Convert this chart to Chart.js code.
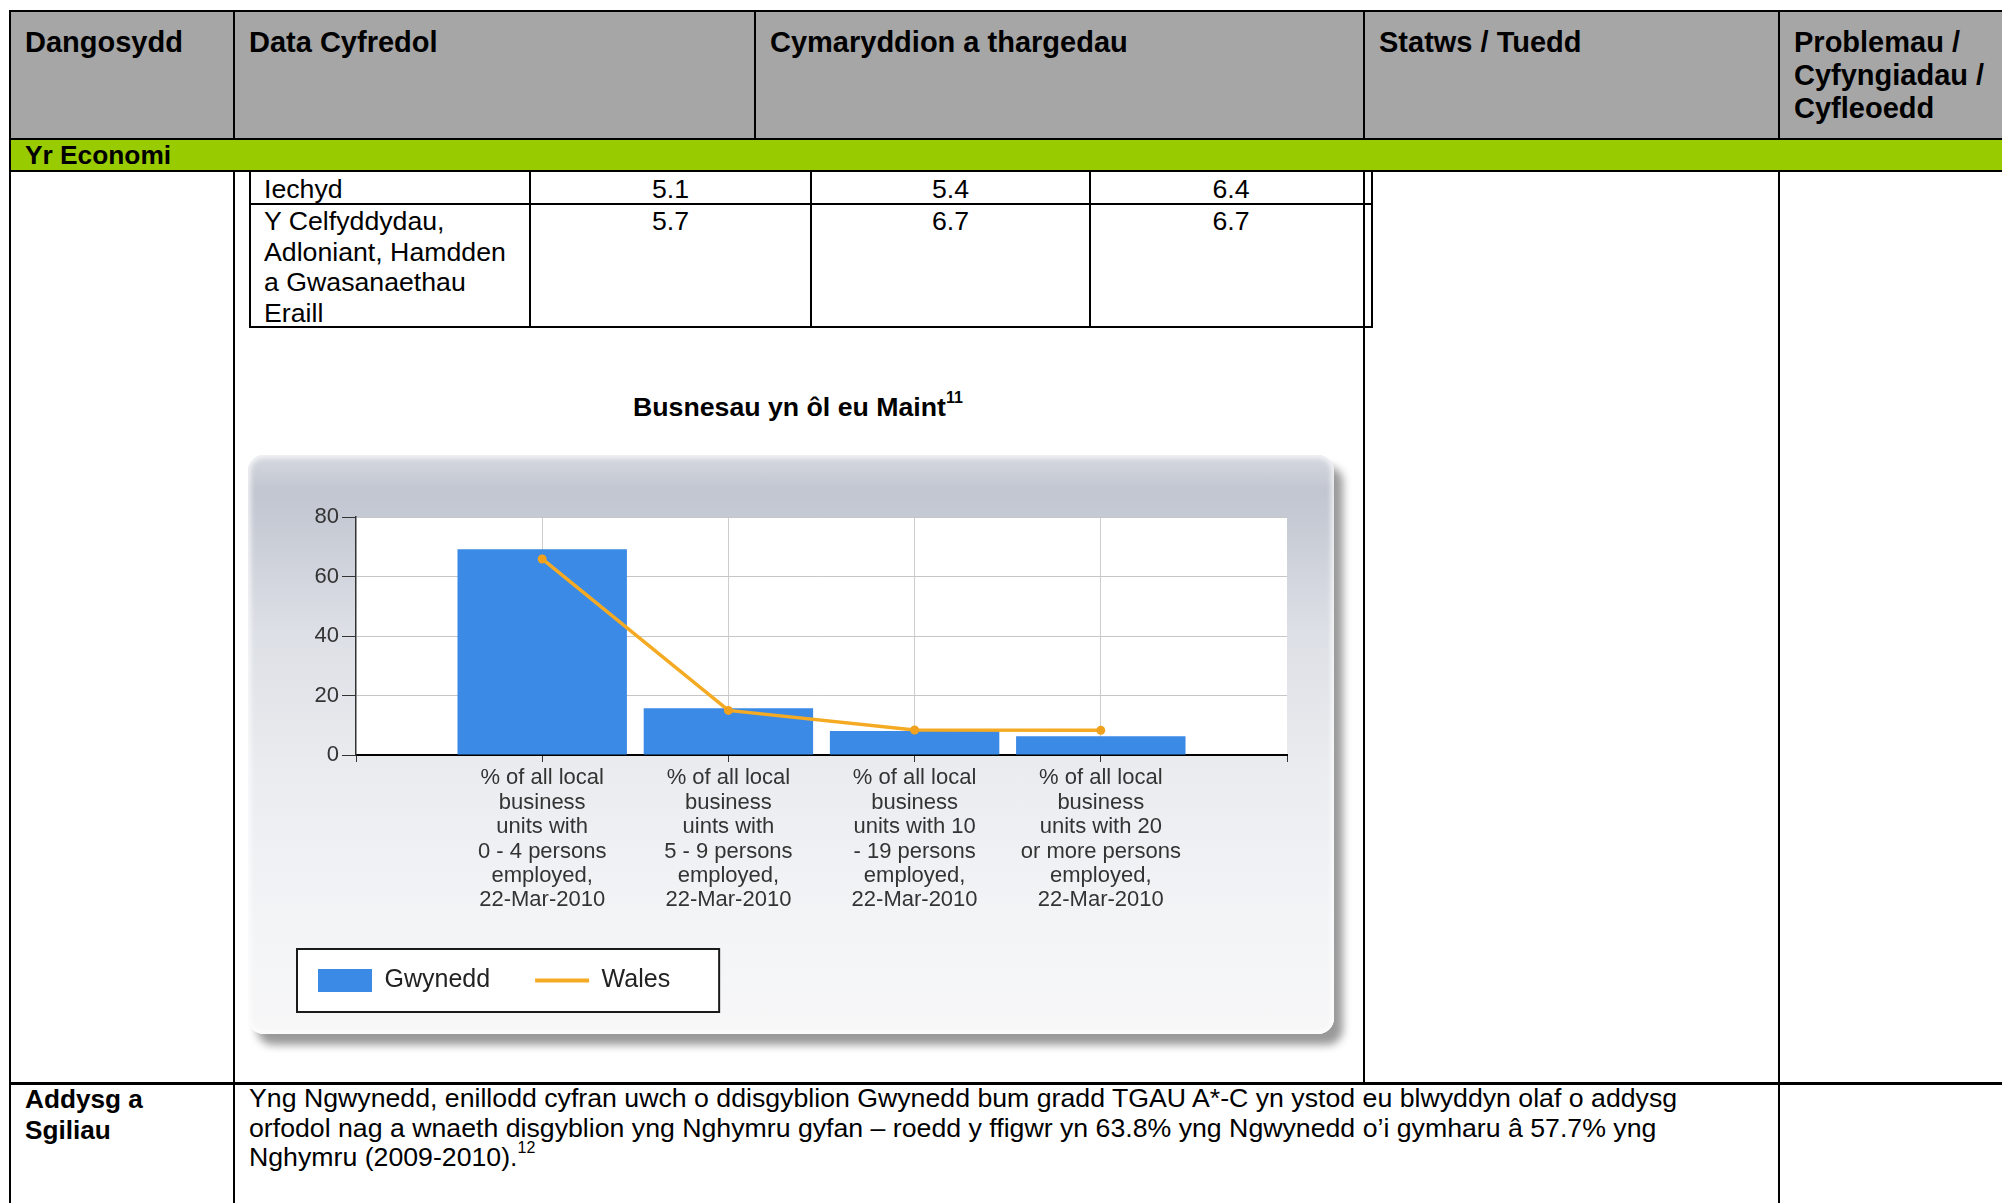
<!DOCTYPE html>
<html>
<head>
<meta charset="utf-8">
<script src="https://cdn.jsdelivr.net/npm/chart.js@4.4.1/dist/chart.umd.min.js"></script>
<style>
html,body{margin:0;padding:0;background:#fff;width:2002px;height:1203px;overflow:hidden;font-family:"Liberation Sans",Arial,sans-serif;color:#000;}
.l{position:absolute;background:#000;}
.t{position:absolute;white-space:nowrap;}
.hd{font-size:29px;font-weight:bold;line-height:33px;}
.bd{font-size:26.7px;line-height:30.6px;}
.c{text-align:center;}
#panel{position:absolute;left:248px;top:455px;width:1086px;height:579px;border-radius:16px;
 background:linear-gradient(180deg,#d6d9e0 0%,#c2c6d0 6%,#c6cad4 11%,#dcdfe5 30%,#eaecef 55%,#f3f4f6 80%,#f7f7f8 100%);
 box-shadow:9px 11px 8px rgba(0,0,0,0.40), inset 0 0 5px 3px rgba(255,255,255,0.7);}
#cv{position:absolute;left:248px;top:455px;}
sup{font-size:60%;line-height:0;position:relative;top:-0.2em;}
</style>
</head>
<body>
<!-- header background and band -->
<div class="l" style="left:11px;top:12px;width:1991px;height:126px;background:#a6a6a6"></div>
<div class="l" style="left:11px;top:140px;width:1991px;height:30px;background:#99cc00"></div>
<!-- horizontal rules -->
<div class="l" style="left:9px;top:10px;width:1993px;height:2px"></div>
<div class="l" style="left:9px;top:138px;width:1993px;height:2px"></div>
<div class="l" style="left:9px;top:170px;width:1993px;height:2px"></div>
<div class="l" style="left:9px;top:1082px;width:1993px;height:3px"></div>
<!-- vertical rules -->
<div class="l" style="left:9px;top:10px;width:2px;height:1193px"></div>
<div class="l" style="left:233px;top:12px;width:2px;height:126px"></div>
<div class="l" style="left:233px;top:172px;width:2px;height:1031px"></div>
<div class="l" style="left:754px;top:12px;width:2px;height:126px"></div>
<div class="l" style="left:1363px;top:12px;width:2px;height:126px"></div>
<div class="l" style="left:1363px;top:172px;width:2px;height:910px"></div>
<div class="l" style="left:1778px;top:12px;width:2px;height:126px"></div>
<div class="l" style="left:1778px;top:172px;width:2px;height:1031px"></div>
<!-- inner table -->
<div class="l" style="left:249px;top:172px;width:2px;height:156px"></div>
<div class="l" style="left:529px;top:172px;width:2px;height:156px"></div>
<div class="l" style="left:810px;top:172px;width:2px;height:156px"></div>
<div class="l" style="left:1089px;top:172px;width:2px;height:156px"></div>
<div class="l" style="left:1371px;top:172px;width:2px;height:156px"></div>
<div class="l" style="left:249px;top:203px;width:1124px;height:2px"></div>
<div class="l" style="left:249px;top:326px;width:1124px;height:2px"></div>

<!-- header texts -->
<div class="t hd" style="left:25px;top:26px">Dangosydd</div>
<div class="t hd" style="left:249px;top:26px">Data Cyfredol</div>
<div class="t hd" style="left:770px;top:26px">Cymaryddion a thargedau</div>
<div class="t hd" style="left:1379px;top:26px">Statws / Tuedd</div>
<div class="t hd" style="left:1794px;top:26px">Problemau /<br>Cyfyngiadau /<br>Cyfleoedd</div>
<div class="t" style="left:25px;top:139px;font-size:26.3px;font-weight:bold;line-height:32px">Yr Economi</div>

<!-- inner table text -->
<div class="t bd" style="left:264px;top:174px">Iechyd</div>
<div class="t bd c" style="left:531px;width:279px;top:174px">5.1</div>
<div class="t bd c" style="left:812px;width:277px;top:174px">5.4</div>
<div class="t bd c" style="left:1091px;width:280px;top:174px">6.4</div>
<div class="t bd" style="left:264px;top:206px">Y Celfyddydau,<br>Adloniant, Hamdden<br>a Gwasanaethau<br>Eraill</div>
<div class="t bd c" style="left:531px;width:279px;top:206px">5.7</div>
<div class="t bd c" style="left:812px;width:277px;top:206px">6.7</div>
<div class="t bd c" style="left:1091px;width:280px;top:206px">6.7</div>

<!-- chart caption -->
<div class="t" style="left:633px;top:391px;font-size:26.7px;font-weight:bold;line-height:32px">Busnesau yn ôl eu Maint<sup>11</sup></div>

<div id="panel"></div>
<canvas id="cv" width="1082" height="577" style="width:1082px;height:577px"></canvas>

<!-- last row -->
<div class="t" style="left:25px;top:1084px;font-size:26.2px;font-weight:bold;line-height:31px">Addysg a<br>Sgiliau</div>
<div class="t" style="left:249px;top:1084px;font-size:26.7px;line-height:29.5px">Yng Ngwynedd, enillodd cyfran uwch o ddisgyblion Gwynedd bum gradd TGAU A*-C yn ystod eu blwyddyn olaf o addysg<br>orfodol nag a wnaeth disgyblion yng Nghymru gyfan – roedd y ffigwr yn 63.8% yng Ngwynedd o’i gymharu â 57.7% yng<br>Nghymru (2009-2010).<sup>12</sup></div>

<script>
// ---- data ----
const categories = [
  ["% of all local", "business", "units with", "0 - 4 persons", "employed,", "22-Mar-2010"],
  ["% of all local", "business", "uints with", "5 - 9 persons", "employed,", "22-Mar-2010"],
  ["% of all local", "business", "units with 10", "- 19 persons", "employed,", "22-Mar-2010"],
  ["% of all local", "business", "units with 20", "or more persons", "employed,", "22-Mar-2010"]
];
const gwynedd = [69.2, 15.7, 8.1, 6.3];
const wales = [65.9, 15.0, 8.4, 8.3];
const yTicks = [0, 20, 40, 60, 80];
const seriesNames = ["Gwynedd", "Wales"];

const FAMILY = '"Liberation Sans", Arial, sans-serif';
Chart.defaults.font.family = FAMILY;

const plotBg = {
  id: 'plotBg',
  beforeDraw(chart) {
    const {ctx, chartArea: a} = chart;
    ctx.save();
    ctx.fillStyle = '#ffffff';
    ctx.fillRect(a.left, a.top, a.right - a.left, a.bottom - a.top);
    const hb = chart.legend && chart.legend.legendHitBoxes;
    if (hb && hb.length) {
      const f = hb[0], l = hb[hb.length - 1];
      const x0 = f.left - 21, y0 = f.top - 19;
      const x1 = l.left + l.width + 49, y1 = f.top + f.height + 19;
      ctx.fillStyle = '#ffffff';
      ctx.fillRect(x0, y0, x1 - x0, y1 - y0);
      ctx.strokeStyle = '#1a1a1a';
      ctx.lineWidth = 2;
      ctx.strokeRect(x0, y0, x1 - x0, y1 - y0);
    }
    ctx.restore();
  }
};

const edge = categories.length + 1;

new Chart(document.getElementById('cv'), {
  type: 'bar',
  data: {
    labels: ['', ...categories, ''],
    datasets: [
      {
        type: 'bar', label: seriesNames[0],
        data: [null, ...gwynedd, null],
        backgroundColor: '#3b8ae6', borderWidth: 0,
        categoryPercentage: 1, barPercentage: 0.91, order: 1
      },
      {
        type: 'line', label: seriesNames[1],
        data: [null, ...wales, null],
        borderColor: '#f5aa23', backgroundColor: '#f5aa23',
        borderWidth: 3.5, pointRadius: 4.5, pointBorderWidth: 0,
        pointBackgroundColor: '#f0a21e', tension: 0, order: 0
      }
    ]
  },
  options: {
    responsive: false, animation: false, devicePixelRatio: 1,
    layout: {padding: {top: 62, right: 43, bottom: 29, left: 25}},
    plugins: {
      tooltip: {enabled: false},
      legend: {
        position: 'bottom', align: 'start',
        labels: {
          usePointStyle: true, pointStyleWidth: 54, boxHeight: 23, padding: 45,
          color: '#222', font: {family: FAMILY, size: 25},
          sort: (a, b) => a.datasetIndex - b.datasetIndex,
          generateLabels(chart) {
            const items = Chart.defaults.plugins.legend.labels.generateLabels(chart);
            items.forEach(it => {
              const ds = chart.data.datasets[it.datasetIndex];
              if (ds.type === 'line') {
                it.pointStyle = 'line'; it.lineWidth = 4; it.strokeStyle = ds.borderColor;
              } else {
                it.pointStyle = 'rect'; it.lineWidth = 0;
              }
            });
            return items;
          }
        }
      }
    },
    scales: {
      x: {
        type: 'category', offset: false,
        grid: {
          offset: false, lineWidth: 1, tickLength: 7, tickColor: '#333',
          color: c => (c.index === 0 || c.index === edge) ? 'rgba(0,0,0,0)' : '#cdcdcd'
        },
        border: {color: '#000', width: 2},
        ticks: {autoSkip: false, maxRotation: 0, minRotation: 0, padding: 4, color: '#333',
                font: {family: FAMILY, size: 22, lineHeight: 1.11}},
        afterFit(s) { s.height = 168; }
      },
      y: {
        min: yTicks[0], max: yTicks[yTicks.length - 1],
        afterBuildTicks(s) { s.ticks = yTicks.map(v => ({value: v})); },
        grid: {color: '#c6c6c6', lineWidth: 1, tickLength: 14, tickColor: '#333'},
        border: {color: '#333', width: 1.5},
        ticks: {padding: 3, color: '#333', font: {family: FAMILY, size: 22}},
        afterFit(s) { s.width = 83; }
      }
    }
  },
  plugins: [plotBg]
});
</script>
</body>
</html>
